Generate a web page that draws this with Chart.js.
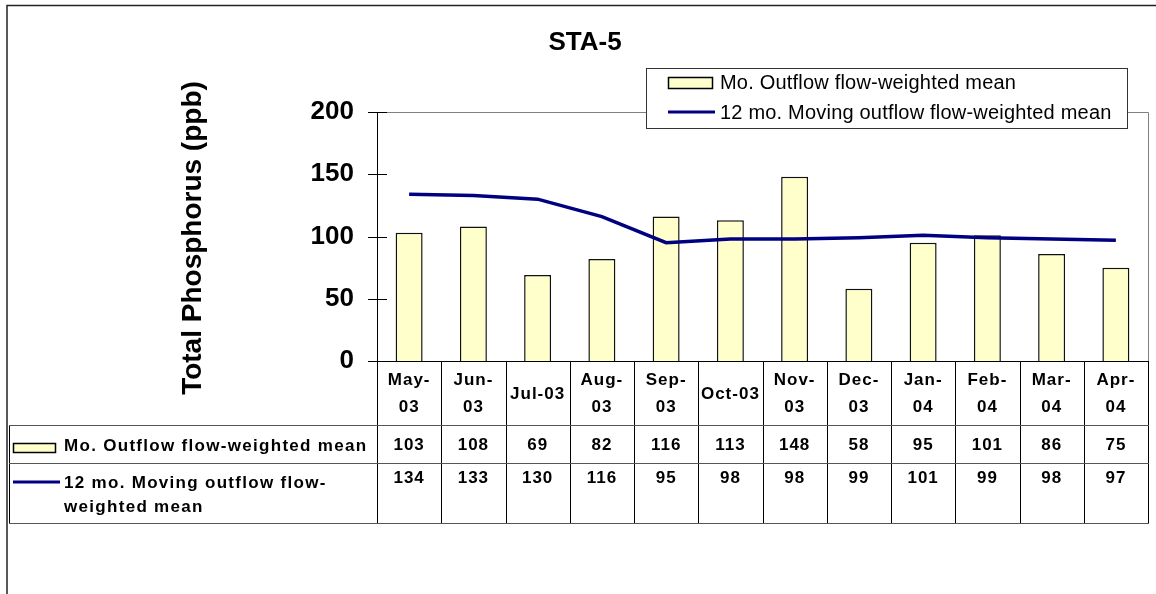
<!DOCTYPE html>
<html>
<head>
<meta charset="utf-8">
<script src="https://cdn.jsdelivr.net/npm/chart.js@4.4.1/dist/chart.umd.min.js"></script>
<style>
  html, body { margin: 0; padding: 0; background: #ffffff; }
  #wrap { width: 1156px; height: 594px; position: relative; }
</style>
</head>
<body>
<div id="wrap"><canvas id="c" width="1156" height="594"></canvas></div>
<script>
// ---- data ----
const chartTitle = 'STA-5';
const yAxisTitle = 'Total Phosphorus (ppb)';
const categories = [['May-', '03'], ['Jun-', '03'], 'Jul-03', ['Aug-', '03'], ['Sep-', '03'], 'Oct-03',
                    ['Nov-', '03'], ['Dec-', '03'], ['Jan-', '04'], ['Feb-', '04'], ['Mar-', '04'], ['Apr-', '04']];
const monthlyName = 'Mo. Outflow flow-weighted mean';
const movingName = '12 mo. Moving outflow flow-weighted mean';
const movingNameTable = ['12 mo. Moving outflow flow-', 'weighted mean'];
const monthlyMean = [103, 108, 69, 82, 116, 113, 148, 58, 95, 101, 86, 75];
const movingMean = [134, 133, 130, 116, 95, 98, 98, 99, 101, 99, 98, 97];
const yTicks = [0, 50, 100, 150, 200];

const FONT = '"Liberation Sans", Arial, sans-serif';
const BAR_FILL = '#FFFFCC';
const LINE_COLOR = '#000080';

const decorPlugin = {
  id: 'decor',
  beforeDatasetsDraw(chart) {
    const ctx = chart.ctx;
    const a = chart.chartArea;
    ctx.save();
    ctx.strokeStyle = '#808080';
    ctx.lineWidth = 1;
    ctx.beginPath();
    ctx.moveTo(a.left, a.top + 0.5);
    ctx.lineTo(a.right + 0.5, a.top + 0.5);
    ctx.lineTo(a.right + 0.5, a.bottom);
    ctx.stroke();
    ctx.restore();
  },
  afterDraw(chart) {
    const ctx = chart.ctx;
    const a = chart.chartArea;
    const xs = chart.scales.x;
    const ys = chart.scales.y;
    ctx.save();

    // outer border
    ctx.strokeStyle = '#222';
    ctx.lineWidth = 1.5;
    ctx.beginPath();
    ctx.moveTo(7, 594);
    ctx.lineTo(7, 5.5);
    ctx.lineTo(1156, 5.5);
    ctx.stroke();

    // y axis with cross ticks
    ctx.strokeStyle = '#000';
    ctx.lineWidth = 1;
    ctx.beginPath();
    ctx.moveTo(a.left + 0.5, a.top);
    ctx.lineTo(a.left + 0.5, a.bottom);
    yTicks.forEach(v => {
      const y = Math.round(ys.getPixelForValue(v)) + 0.5;
      ctx.moveTo(a.left - 9, y);
      ctx.lineTo(a.left + 10, y);
    });
    ctx.stroke();
    ctx.beginPath();
    ctx.moveTo(a.left, a.bottom + 0.5);
    ctx.lineTo(a.right + 1, a.bottom + 0.5);
    ctx.stroke();

    // title
    ctx.fillStyle = '#000';
    ctx.font = 'bold 26px ' + FONT;
    ctx.textAlign = 'center';
    ctx.textBaseline = 'middle';
    ctx.fillText(chartTitle, 585, 43);

    // y axis title
    ctx.save();
    ctx.translate(193, 238);
    ctx.rotate(-Math.PI / 2);
    ctx.font = 'bold 28px ' + FONT;
    ctx.fillText(yAxisTitle, 0, 0);
    ctx.restore();

    // legend box
    ctx.fillStyle = '#fff';
    ctx.fillRect(646, 68, 481, 60);
    ctx.strokeStyle = '#333';
    ctx.lineWidth = 1;
    ctx.strokeRect(646.5, 68.5, 481, 60);
    ctx.fillStyle = BAR_FILL;
    ctx.fillRect(668, 77, 44, 11);
    ctx.strokeStyle = '#000';
    ctx.lineWidth = 1.5;
    ctx.strokeRect(668.5, 77.5, 44, 11);
    ctx.strokeStyle = LINE_COLOR;
    ctx.lineWidth = 3;
    ctx.beginPath();
    ctx.moveTo(668, 112);
    ctx.lineTo(715, 112);
    ctx.stroke();
    ctx.fillStyle = '#000';
    ctx.font = '20px ' + FONT;
    ctx.textAlign = 'left';
    ctx.textBaseline = 'middle';
    try { ctx.letterSpacing = '0.2px'; } catch (e) {}
    ctx.fillText(monthlyName, 720, 83);
    ctx.fillText(movingName, 720, 113);

    // data table
    const w = xs.getPixelForValue(1) - xs.getPixelForValue(0);
    const yHead = a.bottom, yR1 = 425, yR2 = 463, yEnd = 523;
    ctx.strokeStyle = '#000';
    ctx.lineWidth = 1;
    ctx.beginPath();
    for (let i = 0; i <= categories.length; i++) {
      const x = Math.round(a.left + i * w) + 0.5;
      ctx.moveTo(x, yHead);
      ctx.lineTo(x, yEnd);
    }
    ctx.moveTo(9.5, yR1);
    ctx.lineTo(9.5, yEnd);
    ctx.stroke();
    ctx.strokeStyle = '#555';
    ctx.beginPath();
    [yR1, yR2, yEnd].forEach(y => {
      ctx.moveTo(9, y + 0.5);
      ctx.lineTo(a.right + 1, y + 0.5);
    });
    ctx.stroke();

    ctx.fillStyle = '#000';
    ctx.font = 'bold 17px ' + FONT;
    ctx.textAlign = 'center';
    ctx.textBaseline = 'middle';
    try { ctx.letterSpacing = '1px'; } catch (e) {}
    categories.forEach((c, i) => {
      const cx = xs.getPixelForValue(i);
      if (Array.isArray(c)) {
        ctx.fillText(c[0], cx, 380);
        ctx.fillText(c[1], cx, 407);
      } else {
        ctx.fillText(c, cx, 394);
      }
      ctx.fillText(String(monthlyMean[i]), cx, 445);
      ctx.fillText(String(movingMean[i]), cx, 478);
    });

    // row labels with legend keys
    ctx.fillStyle = BAR_FILL;
    ctx.fillRect(13, 443, 42, 9);
    ctx.strokeStyle = '#000';
    ctx.lineWidth = 1.5;
    ctx.strokeRect(13.5, 443.5, 42, 9);
    ctx.strokeStyle = LINE_COLOR;
    ctx.lineWidth = 3;
    ctx.beginPath();
    ctx.moveTo(13, 482);
    ctx.lineTo(60, 482);
    ctx.stroke();
    ctx.fillStyle = '#000';
    ctx.textAlign = 'left';
    try { ctx.letterSpacing = '1.3px'; } catch (e) {}
    ctx.fillText(monthlyName, 64, 446);
    ctx.fillText(movingNameTable[0], 64, 483);
    ctx.fillText(movingNameTable[1], 64, 507);
    ctx.restore();
  }
};

new Chart(document.getElementById('c'), {
  type: 'bar',
  data: {
    labels: categories,
    datasets: [
      {
        type: 'line',
        label: movingName,
        data: movingMean,
        borderColor: LINE_COLOR,
        borderWidth: 3.5,
        pointRadius: 0,
        tension: 0,
        fill: false,
        order: 0
      },
      {
        type: 'bar',
        label: monthlyName,
        data: monthlyMean,
        backgroundColor: BAR_FILL,
        borderColor: '#111',
        borderWidth: 1.5,
        barPercentage: 0.42,
        categoryPercentage: 1.0,
        order: 1
      }
    ]
  },
  options: {
    responsive: false,
    animation: false,
    events: [],
    layout: { padding: { left: 8, top: 112, right: 8, bottom: 233 } },
    plugins: { legend: { display: false }, title: { display: false }, tooltip: { enabled: false } },
    scales: {
      x: { display: false, offset: true },
      y: {
        min: 0, max: 200,
        afterFit(scale) { scale.width = 369; },
        afterBuildTicks(scale) { scale.ticks = yTicks.map(v => ({ value: v })); },
        grid: { display: false },
        border: { display: false },
        ticks: {
          padding: 15,
          color: '#000',
          font: { family: FONT, size: 26, weight: 'bold' }
        }
      }
    }
  },
  plugins: [decorPlugin]
});
</script>
</body>
</html>
